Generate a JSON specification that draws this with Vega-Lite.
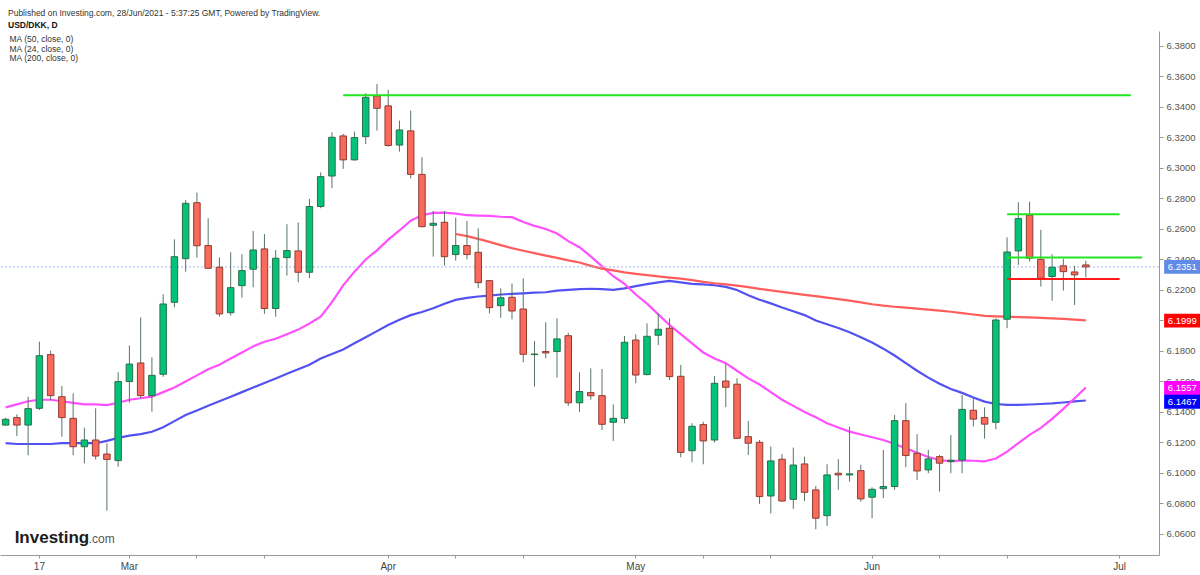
{
  "$schema": "https://vega.github.io/schema/vega-lite/v6.json",
  "width": 1159,
  "height": 524,
  "autosize": "none",
  "padding": {"left": 0, "top": 31, "right": 41, "bottom": 20},
  "background": "white",
  "title": {
    "text": "Published on Investing.com, 28/Jun/2021 - 5:37:25 GMT, Powered by TradingView.",
    "subtitle": "USD/DKK, D",
    "anchor": "start",
    "frame": "group",
    "dx": 8,
    "offset": 2,
    "fontSize": 8.5,
    "fontWeight": "normal",
    "color": "#333333",
    "subtitleFontSize": 8.5,
    "subtitleFontWeight": "bold",
    "subtitleColor": "#111111",
    "subtitlePadding": 3.5
  },
  "datasets": {
    "px": [
      {"d":"2021-02-12","o":6.1314,"h":6.1362,"l":6.1310,"c":6.1352,"m24":6.1430,"m50":6.1195},
      {"d":"2021-02-15","o":6.1363,"h":6.1384,"l":6.1242,"c":6.1314,"m24":6.1450,"m50":6.1190},
      {"d":"2021-02-16","o":6.1314,"h":6.1500,"l":6.1116,"c":6.1422,"m24":6.1470,"m50":6.1190},
      {"d":"2021-02-17","o":6.1424,"h":6.1861,"l":6.1413,"c":6.1769,"m24":6.1480,"m50":6.1190},
      {"d":"2021-02-18","o":6.1776,"h":6.1802,"l":6.1478,"c":6.1507,"m24":6.1480,"m50":6.1190},
      {"d":"2021-02-19","o":6.1500,"h":6.1570,"l":6.1238,"c":6.1363,"m24":6.1470,"m50":6.1195},
      {"d":"2021-02-22","o":6.1358,"h":6.1522,"l":6.1116,"c":6.1172,"m24":6.1460,"m50":6.1195},
      {"d":"2021-02-23","o":6.1172,"h":6.1297,"l":6.1063,"c":6.1216,"m24":6.1450,"m50":6.1195},
      {"d":"2021-02-24","o":6.1216,"h":6.1424,"l":6.1089,"c":6.1111,"m24":6.1450,"m50":6.1195},
      {"d":"2021-02-25","o":6.1124,"h":6.1194,"l":6.0753,"c":6.1089,"m24":6.1445,"m50":6.1210},
      {"d":"2021-02-26","o":6.1081,"h":6.1660,"l":6.1041,"c":6.1599,"m24":6.1460,"m50":6.1230},
      {"d":"2021-03-01","o":6.1599,"h":6.1835,"l":6.1461,"c":6.1714,"m24":6.1480,"m50":6.1245},
      {"d":"2021-03-02","o":6.1721,"h":6.2020,"l":6.1489,"c":6.1507,"m24":6.1490,"m50":6.1255},
      {"d":"2021-03-03","o":6.1507,"h":6.1758,"l":6.1402,"c":6.1640,"m24":6.1500,"m50":6.1270},
      {"d":"2021-03-04","o":6.1647,"h":6.2171,"l":6.1631,"c":6.2108,"m24":6.1530,"m50":6.1300},
      {"d":"2021-03-05","o":6.2119,"h":6.2532,"l":6.2086,"c":6.2418,"m24":6.1560,"m50":6.1340},
      {"d":"2021-03-08","o":6.2405,"h":6.2790,"l":6.2320,"c":6.2768,"m24":6.1600,"m50":6.1380},
      {"d":"2021-03-09","o":6.2772,"h":6.2838,"l":6.2412,"c":6.2490,"m24":6.1640,"m50":6.1410},
      {"d":"2021-03-10","o":6.2491,"h":6.2670,"l":6.2336,"c":6.2342,"m24":6.1680,"m50":6.1440},
      {"d":"2021-03-11","o":6.2349,"h":6.2414,"l":6.2025,"c":6.2043,"m24":6.1710,"m50":6.1470},
      {"d":"2021-03-12","o":6.2051,"h":6.2447,"l":6.2032,"c":6.2215,"m24":6.1750,"m50":6.1500},
      {"d":"2021-03-15","o":6.2228,"h":6.2434,"l":6.2150,"c":6.2327,"m24":6.1790,"m50":6.1530},
      {"d":"2021-03-16","o":6.2336,"h":6.2587,"l":6.2218,"c":6.2462,"m24":6.1830,"m50":6.1560},
      {"d":"2021-03-17","o":6.2469,"h":6.2567,"l":6.2043,"c":6.2078,"m24":6.1860,"m50":6.1590},
      {"d":"2021-03-18","o":6.2078,"h":6.2462,"l":6.2025,"c":6.2408,"m24":6.1880,"m50":6.1620},
      {"d":"2021-03-19","o":6.2412,"h":6.2631,"l":6.2294,"c":6.2458,"m24":6.1910,"m50":6.1650},
      {"d":"2021-03-22","o":6.2456,"h":6.2642,"l":6.2250,"c":6.2316,"m24":6.1940,"m50":6.1680},
      {"d":"2021-03-23","o":6.2316,"h":6.2797,"l":6.2277,"c":6.2747,"m24":6.1980,"m50":6.1710},
      {"d":"2021-03-24","o":6.2747,"h":6.2971,"l":6.2736,"c":6.2943,"m24":6.2025,"m50":6.1750},
      {"d":"2021-03-25","o":6.2947,"h":6.3234,"l":6.2867,"c":6.3201,"m24":6.2120,"m50":6.1780},
      {"d":"2021-03-26","o":6.3210,"h":6.3223,"l":6.2994,"c":6.3053,"m24":6.2230,"m50":6.1810},
      {"d":"2021-03-29","o":6.3053,"h":6.3238,"l":6.3048,"c":6.3199,"m24":6.2320,"m50":6.1850},
      {"d":"2021-03-30","o":6.3205,"h":6.3490,"l":6.3157,"c":6.3463,"m24":6.2400,"m50":6.1890},
      {"d":"2021-03-31","o":6.3472,"h":6.3551,"l":6.3245,"c":6.3391,"m24":6.2460,"m50":6.1930},
      {"d":"2021-04-01","o":6.3407,"h":6.3512,"l":6.3140,"c":6.3147,"m24":6.2530,"m50":6.1970},
      {"d":"2021-04-02","o":6.3150,"h":6.3310,"l":6.3107,"c":6.3249,"m24":6.2590,"m50":6.2005},
      {"d":"2021-04-05","o":6.3243,"h":6.3376,"l":6.2932,"c":6.2958,"m24":6.2655,"m50":6.2035},
      {"d":"2021-04-06","o":6.2958,"h":6.3070,"l":6.2610,"c":6.2615,"m24":6.2690,"m50":6.2055},
      {"d":"2021-04-07","o":6.2624,"h":6.2718,"l":6.2418,"c":6.2637,"m24":6.2705,"m50":6.2080},
      {"d":"2021-04-08","o":6.2644,"h":6.2718,"l":6.2360,"c":6.2418,"m24":6.2707,"m50":6.2110},
      {"d":"2021-04-09","o":6.2432,"h":6.2674,"l":6.2392,"c":6.2491,"m24":6.2700,"m50":6.2135,"m200":6.2567},
      {"d":"2021-04-12","o":6.2491,"h":6.2652,"l":6.2401,"c":6.2432,"m24":6.2690,"m50":6.2148,"m200":6.2553},
      {"d":"2021-04-13","o":6.2447,"h":6.2604,"l":6.2211,"c":6.2248,"m24":6.2688,"m50":6.2157,"m200":6.2535},
      {"d":"2021-04-14","o":6.2261,"h":6.2265,"l":6.2047,"c":6.2084,"m24":6.2686,"m50":6.2163,"m200":6.2515},
      {"d":"2021-04-15","o":6.2097,"h":6.2211,"l":6.2018,"c":6.2149,"m24":6.2680,"m50":6.2170,"m200":6.2494},
      {"d":"2021-04-16","o":6.2152,"h":6.2243,"l":6.2007,"c":6.2062,"m24":6.2677,"m50":6.2174,"m200":6.2474},
      {"d":"2021-04-19","o":6.2075,"h":6.2276,"l":6.1725,"c":6.1778,"m24":6.2645,"m50":6.2178,"m200":6.2457},
      {"d":"2021-04-20","o":6.1776,"h":6.1865,"l":6.1566,"c":6.1780,"m24":6.2620,"m50":6.2182,"m200":6.2441},
      {"d":"2021-04-21","o":6.1796,"h":6.1988,"l":6.1752,"c":6.1787,"m24":6.2600,"m50":6.2185,"m200":6.2425},
      {"d":"2021-04-22","o":6.1796,"h":6.2014,"l":6.1625,"c":6.1879,"m24":6.2570,"m50":6.2195,"m200":6.2410},
      {"d":"2021-04-23","o":6.1900,"h":6.1920,"l":6.1440,"c":6.1460,"m24":6.2520,"m50":6.2200,"m200":6.2394},
      {"d":"2021-04-26","o":6.1460,"h":6.1660,"l":6.1400,"c":6.1534,"m24":6.2480,"m50":6.2205,"m200":6.2380},
      {"d":"2021-04-27","o":6.1527,"h":6.1686,"l":6.1480,"c":6.1506,"m24":6.2420,"m50":6.2208,"m200":6.2358},
      {"d":"2021-04-28","o":6.1507,"h":6.1682,"l":6.1282,"c":6.1319,"m24":6.2355,"m50":6.2205,"m200":6.2340},
      {"d":"2021-04-29","o":6.1332,"h":6.1450,"l":6.1210,"c":6.1358,"m24":6.2290,"m50":6.2200,"m200":6.2328},
      {"d":"2021-04-30","o":6.1358,"h":6.1898,"l":6.1326,"c":6.1857,"m24":6.2240,"m50":6.2210,"m200":6.2315},
      {"d":"2021-05-03","o":6.1872,"h":6.1909,"l":6.1588,"c":6.1642,"m24":6.2170,"m50":6.2225,"m200":6.2306},
      {"d":"2021-05-04","o":6.1645,"h":6.1981,"l":6.1640,"c":6.1896,"m24":6.2110,"m50":6.2238,"m200":6.2297},
      {"d":"2021-05-05","o":6.1903,"h":6.2047,"l":6.1839,"c":6.1942,"m24":6.2040,"m50":6.2250,"m200":6.2289},
      {"d":"2021-05-06","o":6.1949,"h":6.2014,"l":6.1610,"c":6.1632,"m24":6.1970,"m50":6.2259,"m200":6.2281},
      {"d":"2021-05-07","o":6.1634,"h":6.1708,"l":6.1103,"c":6.1135,"m24":6.1910,"m50":6.2250,"m200":6.2274},
      {"d":"2021-05-10","o":6.1146,"h":6.1326,"l":6.1070,"c":6.1306,"m24":6.1850,"m50":6.2240,"m200":6.2264},
      {"d":"2021-05-11","o":6.1317,"h":6.1336,"l":6.1057,"c":6.1210,"m24":6.1790,"m50":6.2237,"m200":6.2253},
      {"d":"2021-05-12","o":6.1216,"h":6.1636,"l":6.1199,"c":6.1588,"m24":6.1750,"m50":6.2231,"m200":6.2244},
      {"d":"2021-05-13","o":6.1603,"h":6.1715,"l":6.1431,"c":6.1562,"m24":6.1720,"m50":6.2220,"m200":6.2237},
      {"d":"2021-05-14","o":6.1582,"h":6.1621,"l":6.1222,"c":6.1227,"m24":6.1670,"m50":6.2200,"m200":6.2228},
      {"d":"2021-05-17","o":6.1238,"h":6.1341,"l":6.1118,"c":6.1195,"m24":6.1620,"m50":6.2165,"m200":6.2218},
      {"d":"2021-05-18","o":6.1201,"h":6.1216,"l":6.0797,"c":6.0845,"m24":6.1580,"m50":6.2136,"m200":6.2207},
      {"d":"2021-05-19","o":6.0849,"h":6.1173,"l":6.0735,"c":6.1079,"m24":6.1530,"m50":6.2112,"m200":6.2197},
      {"d":"2021-05-20","o":6.1090,"h":6.1124,"l":6.0812,"c":6.0816,"m24":6.1480,"m50":6.2085,"m200":6.2187},
      {"d":"2021-05-21","o":6.0827,"h":6.1166,"l":6.0764,"c":6.1052,"m24":6.1440,"m50":6.2060,"m200":6.2177},
      {"d":"2021-05-24","o":6.1059,"h":6.1107,"l":6.0816,"c":6.0873,"m24":6.1400,"m50":6.2035,"m200":6.2168},
      {"d":"2021-05-25","o":6.0889,"h":6.0915,"l":6.0631,"c":6.0703,"m24":6.1365,"m50":6.2000,"m200":6.2160},
      {"d":"2021-05-26","o":6.0720,"h":6.1057,"l":6.0653,"c":6.0987,"m24":6.1326,"m50":6.1975,"m200":6.2150},
      {"d":"2021-05-27","o":6.0998,"h":6.1090,"l":6.0889,"c":6.0987,"m24":6.1298,"m50":6.1950,"m200":6.2140},
      {"d":"2021-05-28","o":6.0987,"h":6.1304,"l":6.0943,"c":6.0994,"m24":6.1271,"m50":6.1922,"m200":6.2130},
      {"d":"2021-05-31","o":6.1015,"h":6.1053,"l":6.0812,"c":6.0830,"m24":6.1252,"m50":6.1890,"m200":6.2118},
      {"d":"2021-06-01","o":6.0841,"h":6.0906,"l":6.0703,"c":6.0893,"m24":6.1234,"m50":6.1855,"m200":6.2106},
      {"d":"2021-06-02","o":6.0897,"h":6.1151,"l":6.0834,"c":6.0911,"m24":6.1216,"m50":6.1815,"m200":6.2097},
      {"d":"2021-06-03","o":6.0911,"h":6.1380,"l":6.0889,"c":6.1343,"m24":6.1190,"m50":6.1770,"m200":6.2090},
      {"d":"2021-06-04","o":6.1343,"h":6.1457,"l":6.1037,"c":6.1114,"m24":6.1162,"m50":6.1720,"m200":6.2084},
      {"d":"2021-06-07","o":6.1129,"h":6.1254,"l":6.0954,"c":6.1013,"m24":6.1133,"m50":6.1670,"m200":6.2078},
      {"d":"2021-06-08","o":6.1020,"h":6.1151,"l":6.0998,"c":6.1092,"m24":6.1105,"m50":6.1625,"m200":6.2071},
      {"d":"2021-06-09","o":6.1107,"h":6.1118,"l":6.0878,"c":6.1064,"m24":6.1085,"m50":6.1585,"m200":6.2064},
      {"d":"2021-06-10","o":6.1075,"h":6.1249,"l":6.0998,"c":6.1084,"m24":6.1076,"m50":6.1550,"m200":6.2057},
      {"d":"2021-06-11","o":6.1084,"h":6.1511,"l":6.0998,"c":6.1417,"m24":6.1083,"m50":6.1525,"m200":6.2048},
      {"d":"2021-06-14","o":6.1411,"h":6.1494,"l":6.1304,"c":6.1353,"m24":6.1080,"m50":6.1495,"m200":6.2039},
      {"d":"2021-06-15","o":6.1364,"h":6.1430,"l":6.1225,"c":6.1320,"m24":6.1076,"m50":6.1468,"m200":6.2030},
      {"d":"2021-06-16","o":6.1332,"h":6.2014,"l":6.1286,"c":6.2003,"m24":6.1095,"m50":6.1452,"m200":6.2027},
      {"d":"2021-06-17","o":6.2008,"h":6.2545,"l":6.1949,"c":6.2449,"m24":6.1140,"m50":6.1446,"m200":6.2025},
      {"d":"2021-06-18","o":6.2456,"h":6.2775,"l":6.2364,"c":6.2668,"m24":6.1195,"m50":6.1447,"m200":6.2022},
      {"d":"2021-06-21","o":6.2690,"h":6.2779,"l":6.2386,"c":6.2408,"m24":6.1250,"m50":6.1449,"m200":6.2020},
      {"d":"2021-06-22","o":6.2401,"h":6.2594,"l":6.2222,"c":6.2277,"m24":6.1295,"m50":6.1452,"m200":6.2017},
      {"d":"2021-06-23","o":6.2288,"h":6.2434,"l":6.2130,"c":6.2349,"m24":6.1355,"m50":6.1456,"m200":6.2014},
      {"d":"2021-06-24","o":6.2358,"h":6.2404,"l":6.2196,"c":6.2320,"m24":6.1420,"m50":6.1462,"m200":6.2010},
      {"d":"2021-06-25","o":6.2318,"h":6.2358,"l":6.2102,"c":6.2299,"m24":6.1490,"m50":6.1469,"m200":6.2005},
      {"d":"2021-06-28","o":6.2364,"h":6.2392,"l":6.2283,"c":6.2351,"m24":6.1560,"m50":6.1475,"m200":6.2001},
      {"d":"2021-06-29"},
      {"d":"2021-06-30"},
      {"d":"2021-07-01"},
      {"d":"2021-07-02"},
      {"d":"2021-07-05"},
      {"d":"2021-07-06"}
    ],
    "lv": [
      {"a":"2021-03-26","b":"2021-07-02","v":6.3476,"k":"g"},
      {"a":"2021-06-17","b":"2021-07-01","v":6.2696,"k":"g"},
      {"a":"2021-06-17","b":"2021-07-05","v":6.2412,"k":"g"},
      {"a":"2021-06-17","b":"2021-07-01","v":6.2272,"k":"r"}
    ],
    "tag": [
      {"k":"price","v":6.2351},
      {"k":"ma200","v":6.1999},
      {"k":"ma24","v":6.1557},
      {"k":"ma50","v":6.1467}
    ]
  },
  "layer": [
    {
      "data": {"name": "px"},
      "transform": [{"fold": ["m50", "m24", "m200"], "as": ["ma", "val"]}],
      "mark": {"type": "line", "strokeWidth": 2.2},
      "encoding": {
        "x": {
          "field": "d",
          "type": "ordinal",
          "scale": {"paddingInner": 0, "paddingOuter": 0},
          "axis": {
            "title": null,
            "bandPosition": 0.5,
            "values": ["2021-02-17", "2021-03-01", "2021-03-09", "2021-03-17", "2021-04-01", "2021-04-09", "2021-04-19", "2021-05-03", "2021-05-11", "2021-05-19", "2021-06-01", "2021-06-09", "2021-06-17", "2021-07-01"],
            "labelExpr": "datum.value == '2021-02-17' ? '17' : datum.value == '2021-03-01' ? 'Mar' : datum.value == '2021-04-01' ? 'Apr' : datum.value == '2021-05-03' ? 'May' : datum.value == '2021-06-01' ? 'Jun' : datum.value == '2021-07-01' ? 'Jul' : ''",
            "labelAngle": 0,
            "labelFontSize": 10,
            "labelColor": "#444444",
            "labelPadding": 3,
            "tickSize": 3,
            "tickColor": "#999999",
            "domainColor": "#999999",
            "grid": false
          }
        },
        "y": {
          "field": "val",
          "type": "quantitative",
          "scale": {"domain": [6.0462, 6.3898], "nice": false, "zero": false},
          "axis": {
            "orient": "right",
            "title": null,
            "tickCount": 17,
            "values": [6.06, 6.08, 6.1, 6.12, 6.14, 6.16, 6.18, 6.2, 6.22, 6.24, 6.26, 6.28, 6.3, 6.32, 6.34, 6.36, 6.38],
            "format": ".4f",
            "labelOverlap": false,
            "labelSeparation": 0,
            "labelFontSize": 9.5,
            "labelColor": "#555555",
            "labelPadding": 3,
            "tickSize": 4,
            "tickColor": "#999999",
            "domainColor": "#999999",
            "grid": false
          }
        },
        "color": {
          "field": "ma",
          "type": "nominal",
          "scale": {"domain": ["m50", "m24", "m200"], "range": ["#5252f2", "#ff4fff", "#ff5c5c"]},
          "legend": {
            "orient": "top-left",
            "offset": 4,
            "title": null,
            "padding": 0,
            "symbolOpacity": 0,
            "symbolSize": 0,
            "symbolStrokeWidth": 0,
            "labelOffset": -3,
            "labelFontSize": 8.5,
            "labelColor": "#333333",
            "rowPadding": 0.5,
            "labelExpr": "datum.label == 'm50' ? 'MA (50, close, 0)' : datum.label == 'm24' ? 'MA (24, close, 0)' : 'MA (200, close, 0)'"
          }
        }
      }
    },
    {
      "data": {"name": "tag"},
      "transform": [{"filter": "datum.k == 'price'"}],
      "mark": {"type": "rule", "color": "#9fb8f0", "strokeWidth": 1, "strokeDash": [2, 2]},
      "encoding": {
        "y": {"field": "v", "type": "quantitative"}
      }
    },
    {
      "data": {"name": "px"},
      "mark": {"type": "rule", "color": "#587565", "strokeWidth": 1},
      "encoding": {
        "x": {"field": "d", "type": "ordinal"},
        "y": {"field": "l", "type": "quantitative"},
        "y2": {"field": "h"}
      }
    },
    {
      "data": {"name": "px"},
      "mark": {"type": "bar", "width": 6.5, "strokeWidth": 1},
      "encoding": {
        "x": {"field": "d", "type": "ordinal"},
        "y": {"field": "o", "type": "quantitative"},
        "y2": {"field": "c"},
        "fill": {"condition": {"test": "datum.c >= datum.o", "value": "#05c279"}, "value": "#fa6a5c"},
        "stroke": {"condition": {"test": "datum.c >= datum.o", "value": "#2a6e4a"}, "value": "#8f3c33"}
      }
    },
    {
      "data": {"name": "lv"},
      "mark": {"type": "rule", "strokeWidth": 2},
      "encoding": {
        "x": {"field": "a", "type": "ordinal"},
        "x2": {"field": "b"},
        "y": {"field": "v", "type": "quantitative"},
        "stroke": {"field": "k", "type": "nominal", "scale": {"domain": ["g", "r"], "range": ["#22e622", "#ff1a1a"]}, "legend": null}
      }
    },
    {
      "data": {"name": "tag"},
      "mark": {"type": "point", "shape": "M-1,-0.38L1,-0.38L1,0.38L-1,0.38Z", "filled": true, "size": 1330, "opacity": 1, "xOffset": 29},
      "encoding": {
        "x": {"datum": "2021-07-06", "type": "ordinal"},
        "y": {"field": "v", "type": "quantitative"},
        "fill": {"field": "k", "type": "nominal", "scale": {"domain": ["price", "ma200", "ma24", "ma50"], "range": ["#5f8be6", "#ff0000", "#ff00ff", "#0000ff"]}, "legend": null}
      }
    },
    {
      "data": {"name": "tag"},
      "mark": {"type": "text", "color": "white", "fontSize": 9.5, "align": "center", "baseline": "middle", "dx": 29},
      "encoding": {
        "x": {"datum": "2021-07-06", "type": "ordinal"},
        "y": {"field": "v", "type": "quantitative"},
        "text": {"field": "v", "type": "quantitative", "format": ".4f"}
      }
    },
    {
      "data": {"values": [{}]},
      "mark": {"type": "text", "text": "Investing", "fontSize": 17, "fontWeight": "bold", "color": "#1c1c1c", "align": "left", "baseline": "alphabetic", "dx": 9},
      "encoding": {
        "x": {"datum": "2021-02-12", "type": "ordinal"},
        "y": {"datum": 6.0541, "type": "quantitative"}
      }
    },
    {
      "data": {"values": [{}]},
      "mark": {"type": "text", "text": ".com", "fontSize": 12, "color": "#555555", "align": "left", "baseline": "alphabetic", "dx": 83},
      "encoding": {
        "x": {"datum": "2021-02-12", "type": "ordinal"},
        "y": {"datum": 6.0541, "type": "quantitative"}
      }
    }
  ],
  "config": {
    "font": "Liberation Sans",
    "view": {"stroke": null},
    "axisY": {"labelOverlap": false, "tickCount": 17, "labelSeparation": 0},
    "mark": {"invalid": "break-paths-show-domains"}
  }
}
